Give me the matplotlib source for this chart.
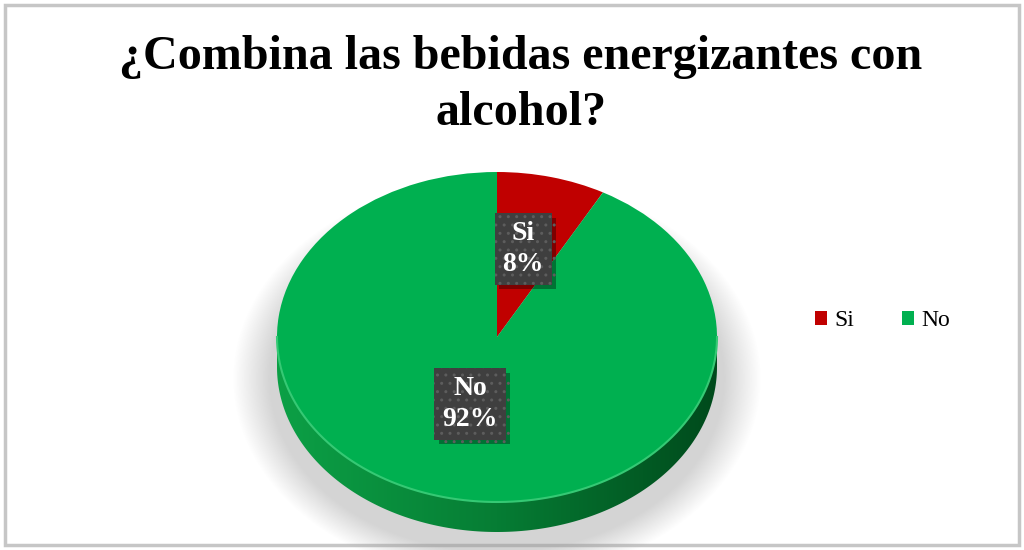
import numpy as np
import matplotlib
matplotlib.use("Agg")
import matplotlib.pyplot as plt
import matplotlib.patheffects as pe
from matplotlib.patches import Rectangle, Polygon
from matplotlib.transforms import Affine2D

labels = ["Si", "No"]
values = [8, 92]
colors = ["#C00000", "#00B050"]

title = "¿Combina las bebidas energizantes con\nalcohol?"

plt.rcParams["font.family"] = ["Liberation Serif", "DejaVu Serif"]

W, H = 1024, 550
fig = plt.figure(figsize=(W / 100, H / 100), dpi=100)
fig.patch.set_facecolor("white")

# pixel-coordinate axes (y up)
ax = fig.add_axes([0, 0, 1, 1])
ax.set_xlim(0, W)
ax.set_ylim(0, H)
ax.axis("off")

# outer frame
ax.add_patch(Rectangle((5, 5), W - 10, H - 10, facecolor="none",
                       edgecolor="#c6c6c6", linewidth=2.5))

ax.text(521, H - 85, title, ha="center", va="center", fontsize=34.6,
        fontweight="bold", linespacing=1.34, color="black")

# pie geometry (ellipse seen in tilt)
cx, cy = 497, H - 337
rx, ry = 220, 165
depth = 30

# soft shadow under the pie
gx = np.linspace(0, W, W)
gy = np.linspace(0, H, H)
X, Y = np.meshgrid(gx, gy)
d = np.sqrt(((X - cx) / (rx + 12)) ** 2 + ((Y - (cy - 42)) / (ry + 12)) ** 2)
alpha = np.clip((1.14 - d) / 0.16, 0, 1) * 0.42
shadow = np.zeros((H, W, 4))
shadow[..., :3] = 0.6
shadow[..., 3] = alpha
ax.imshow(shadow, extent=(0, W, 0, H), origin="lower", zorder=1,
          interpolation="bilinear")

# cylinder side (front half)
t = np.linspace(np.pi, 2 * np.pi, 200)
top_edge = np.column_stack([cx + rx * np.cos(t), cy + ry * np.sin(t)])
bot_edge = np.column_stack([cx + rx * np.cos(t[::-1]),
                            cy - depth + ry * np.sin(t[::-1])])
side = Polygon(np.vstack([top_edge, bot_edge]), closed=True,
               facecolor="none", edgecolor="none", zorder=2)
ax.add_patch(side)
grad = np.linspace(0, 1, 256)
side_cols = np.zeros((1, 256, 3))
c_left = np.array([0x0c, 0xa0, 0x46]) / 255
c_mid = np.array([0x06, 0x7d, 0x34]) / 255
c_right = np.array([0x00, 0x4a, 0x1c]) / 255
for i, g in enumerate(grad):
    if g < 0.5:
        side_cols[0, i] = c_left + (c_mid - c_left) * (g / 0.5)
    else:
        side_cols[0, i] = c_mid + (c_right - c_mid) * ((g - 0.5) / 0.5)
im = ax.imshow(side_cols, extent=(cx - rx, cx + rx, cy - ry - depth, cy),
               aspect="auto", zorder=2, interpolation="bilinear")
im.set_clip_path(side)

# top face from the data
wedges, _ = ax.pie(values, colors=colors, startangle=90, counterclock=False,
                   wedgeprops=dict(linewidth=0))
ell = Affine2D().scale(rx, ry).translate(cx, cy) + ax.transData
for w in wedges:
    w.set_transform(ell)
    w.set_zorder(3)
ax.set_xlim(0, W)
ax.set_ylim(0, H)
ax.set_aspect("auto")
ax.axis("off")

# light rim along the front edge
ax.plot(top_edge[:, 0], top_edge[:, 1], color="#35c974", lw=1.5, zorder=4)

# data labels at the wedge mid-angles
total = sum(values)
start = 90.0
label_r = [0.55, 0.42]
for lab, v, r in zip(labels, values, label_r):
    span = 360.0 * v / total
    mid = np.deg2rad(start - span / 2)
    start -= span
    lx = cx + r * rx * np.cos(mid) - 4
    ly = cy + r * ry * np.sin(mid)
    txt = f"{lab}\n{round(100 * v / total)}%"
    box = dict(boxstyle="square,pad=0.28", facecolor="#3f3f3f",
               edgecolor="#5d5d5d", linewidth=0, hatch="..")
    t_lab = ax.text(lx, ly, txt, ha="center", va="center", fontsize=20,
                    fontweight="bold", color="white", linespacing=1.3,
                    bbox=box, zorder=6)
    t_lab.get_bbox_patch().set_path_effects(
        [pe.SimplePatchShadow(offset=(3, -3), shadow_rgbFace="black", alpha=0.35),
         pe.Normal()])

# legend
handles = [Rectangle((0, 0), 1, 1, facecolor=c) for c in colors]
fig.legend(handles, labels, loc="center left",
           bbox_to_anchor=(815 / W, 1 - 321 / H), ncol=2, frameon=False,
           fontsize=17, handlelength=0.5, handleheight=0.5, handletextpad=0.3,
           columnspacing=2.05, borderpad=0, borderaxespad=0)

fig.savefig("out.png", dpi=100, facecolor="white")
